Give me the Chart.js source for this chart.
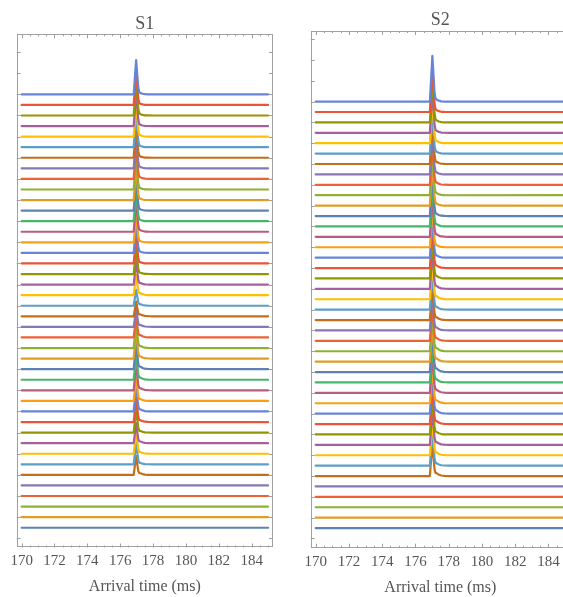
<!DOCTYPE html>
<html lang="en">
<head>
  <meta charset="UTF-8" />
  <title>Arrival time traces S1 / S2</title>
  <script src="https://cdn.jsdelivr.net/npm/chart.js"></script>
  <style>
    html, body { margin: 0; padding: 0; background: #fff; overflow: hidden; width: 563px; height: 597px; }
    .panel { position: absolute; top: 0; height: 597px; }
    #p1 { left: 0; width: 290px; }
    #p2 { left: 290px; width: 300px; }
  </style>
</head>
<body>
  <div class="panel" id="p1"><canvas id="c1"></canvas></div>
  <div class="panel" id="p2"><canvas id="c2"></canvas></div>

  <script>
    // Mathematica-style default colour cycle, trace 0 is the bottom one
    const palette = ['#5E81B5','#E19C24','#8FB032','#EB6235','#8778B3','#C56E1A','#5D9EC7','#FFBF00',
                     '#A5609D','#929600','#E95536','#6685D9','#F89F13','#BC5B80','#47B66D'];

    const xTickLabels = [170, 172, 174, 176, 178, 180, 182, 184];
    const xMinorStep = 0.5;
    const tStart = 170, tEnd = 185;

    // sample times around the arrival peak (ms)
    const s1PulseTime = [176.82, 176.97, 177.1, 177.16, 177.24, 177.36, 177.5, 177.7, 178.0];
    const s2PulseTime = [176.87, 177.02, 177.15, 177.21, 177.29, 177.41, 177.55, 177.75, 178.05];
    // relative pulse and tail profile at those times
    const pulseShape = [0, 1, 0.2, 0.05, 0.02, 0.01, 0, 0, 0];
    const tailShape  = [0, 0, 0, 0.7, 1, 0.5, 0.25, 0.08, 0];

    // peak height / tail height per trace, in trace-spacing units (bottom -> top)
    const s1Peak = [0, 0, 0, 0, 0, 1.8, 2.0, 2.0, 1.9, 2.2,
                    2.3, 2.4, 2.2, 2.5, 2.4, 2.5, 2.6, 2.3, 2.0, 1.7,
                    1.4, 1.5, 1.9, 2.2, 2.5, 2.6, 2.8, 2.7, 2.9, 2.8,
                    3.0, 2.9, 3.0, 3.1, 3.0, 3.1, 3.0, 3.2, 3.1, 3.2,
                    3.2, 3.25];
    const s1Tail = [0, 0, 0, 0, 0, 0.12, 0.08, 0.1, 0.12, 0.1,
                    0.12, 0.15, 0.12, 0.15, 0.15, 0.18, 0.15, 0.15, 0.18, 0.15,
                    0.15, 0.12, 0.15, 0.1, 0.08, 0.05, 0.05, 0.05, 0.08, 0.05,
                    0.05, 0.05, 0.05, 0.08, 0.05, 0.05, 0.05, 0.05, 0.05, 0.05,
                    0.03, 0.05];
    const s2Peak = [0, 0, 0, 0, 0, 3.2, 3.4, 3.5, 3.4, 3.6,
                    3.5, 3.7, 3.6, 3.8, 3.7, 3.8, 3.6, 3.5, 3.4, 3.3,
                    3.4, 3.5, 3.6, 3.7, 3.8, 3.9, 3.8, 4.0, 3.9, 4.0,
                    4.1, 4.0, 4.1, 4.2, 4.1, 4.2, 4.1, 4.3, 4.2, 4.3,
                    4.3, 4.4];
    const s2Tail = [0, 0, 0, 0, 0, 0.2, 0.15, 0.18, 0.18, 0.15,
                    0.2, 0.22, 0.2, 0.22, 0.22, 0.25, 0.22, 0.22, 0.2, 0.2,
                    0.18, 0.18, 0.2, 0.18, 0.15, 0.15, 0.12, 0.12, 0.15, 0.12,
                    0.12, 0.1, 0.12, 0.12, 0.1, 0.1, 0.08, 0.12, 0.1, 0.1,
                    0.08, 0.1];

    const textColor = '#555';
    const frameColor = '#a0a0a0';
    const serif = 'Liberation Serif';

    function traces(pulseTime, peaks, tails) {
      return peaks.map((h, k) => {
        const pts = [{ x: tStart, y: k }];
        pulseTime.forEach((t, j) => pts.push({ x: t, y: k + h * pulseShape[j] + tails[k] * tailShape[j] }));
        pts.push({ x: tEnd, y: k });
        return { data: pts, borderColor: palette[k % palette.length], order: -k };
      });
    }

    // frame with inward ticks on all four sides
    const frameTicks = {
      id: 'frameTicks',
      afterDatasetsDraw(chart) {
        const { ctx, chartArea: a, scales: { x, y } } = chart;
        ctx.save();
        ctx.strokeStyle = frameColor;
        ctx.lineWidth = 1;
        ctx.beginPath();
        for (let v = tStart; v <= tEnd + 1e-6; v += xMinorStep) {
          const px = Math.round(x.getPixelForValue(v)) + 0.5;
          const len = xTickLabels.includes(v) ? 4 : 2;
          ctx.moveTo(px, a.bottom); ctx.lineTo(px, a.bottom - len);
          ctx.moveTo(px, a.top); ctx.lineTo(px, a.top + len);
        }
        for (let v = -1; v <= y.max; v += 2) {
          const py = Math.round(y.getPixelForValue(v)) + 0.5;
          ctx.moveTo(a.left, py); ctx.lineTo(a.left + 4, py);
          ctx.moveTo(a.right, py); ctx.lineTo(a.right - 4, py);
        }
        ctx.stroke();
        ctx.strokeRect(Math.round(a.left) + 0.5, Math.round(a.top) + 0.5,
                       Math.round(a.width) - 1, Math.round(a.height) - 1);
        ctx.restore();
      }
    };

    function makeChart(id, name, pulseTime, peaks, tails, yMin, yMax, pad) {
      return new Chart(document.getElementById(id), {
        type: 'line',
        data: { datasets: traces(pulseTime, peaks, tails) },
        options: {
          responsive: true,
          maintainAspectRatio: false,
          animation: false,
          events: [],
          layout: { padding: { left: pad.left, right: pad.right, top: 0, bottom: 0 } },
          elements: {
            point: { radius: 0 },
            line: { borderWidth: 2.2, tension: 0, borderJoinStyle: 'round', borderCapStyle: 'round' }
          },
          plugins: {
            legend: { display: false },
            tooltip: { enabled: false },
            title: {
              display: true, text: name, color: textColor,
              font: { family: serif, size: 18, weight: 'normal', lineHeight: 1 },
              padding: { top: pad.titleTop, bottom: pad.titleBottom }
            }
          },
          scales: {
            x: {
              type: 'linear', min: 169.7, max: 185.3,
              grid: { display: false, drawTicks: false }, border: { display: false },
              afterBuildTicks: s => { s.ticks = xTickLabels.map(v => ({ value: v })); },
              afterFit: s => { s.height = 597 - pad.bottom; },
              ticks: { color: textColor, font: { family: serif, size: 15 }, padding: 5, maxRotation: 0, autoSkip: false },
              title: {
                display: true, text: 'Arrival time (ms)', color: textColor,
                font: { family: serif, size: 16 }, padding: { top: 0, bottom: pad.titleAxis }
              }
            },
            y: { type: 'linear', display: false, min: yMin, max: yMax }
          }
        },
        plugins: [frameTicks]
      });
    }

    makeChart('c1', 'S1', s1PulseTime, s1Peak, s1Tail, -1.87, 46.68,
      { left: 16.7, right: 17, titleTop: 15.2, titleBottom: 1.1, bottom: 547.5, titleAxis: 0.5 });
    makeChart('c2', 'S2', s2PulseTime, s2Peak, s2Tail, -1.89, 47.79,
      { left: 20.7, right: 20, titleTop: 11.2, titleBottom: 1.8, bottom: 547.7, titleAxis: 0 });
  </script>
</body>
</html>
